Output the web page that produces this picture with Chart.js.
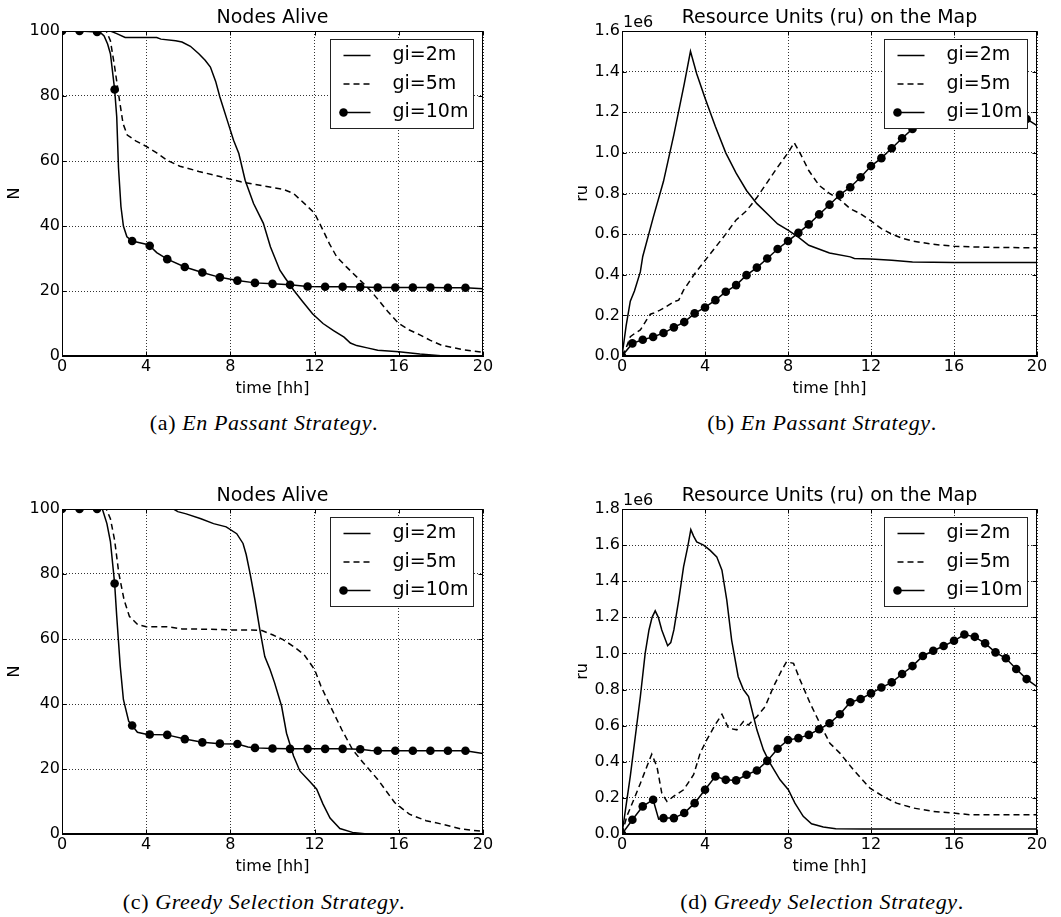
<!DOCTYPE html>
<html>
<head>
<meta charset="utf-8">
<script src="https://cdn.jsdelivr.net/npm/chart.js@4/dist/chart.umd.min.js"></script>
<style>
  html, body { margin: 0; padding: 0; background: #fff; }
  body { width: 1061px; height: 917px; position: relative; overflow: hidden; }
  canvas { position: absolute; }
  .cap { position: absolute; width: 400px; text-align: center; font-family: "Liberation Serif", serif;
         font-size: 22px; line-height: 26px; letter-spacing: 0.6px; color: #000; white-space: nowrap; }
</style>
</head>
<body>
<canvas id="cA" width="500" height="400" style="left:0;top:0"></canvas>
<canvas id="cB" width="531" height="400" style="left:530px;top:0"></canvas>
<canvas id="cC" width="500" height="400" style="left:0;top:478px"></canvas>
<canvas id="cD" width="531" height="400" style="left:530px;top:478px"></canvas>
<script>
// ---- labels ----
const seriesLabels = ['gi=2m', 'gi=5m', 'gi=10m'];
const panelTitles = ['Nodes Alive', 'Resource Units (ru) on the Map'];
const captionTags = ['(a)', '(b)', '(c)', '(d)'];
const captionNames = ['En Passant Strategy', 'En Passant Strategy', 'Greedy Selection Strategy', 'Greedy Selection Strategy'];

// ---- tick values ----
const hourTicks = [0, 4, 8, 12, 16, 20];
const nodeTicks = [0, 20, 40, 60, 80, 100];
const ruTicksEnPassant = [0, 0.2, 0.4, 0.6, 0.8, 1.0, 1.2, 1.4, 1.6];
const ruTicksGreedy = [0, 0.2, 0.4, 0.6, 0.8, 1.0, 1.2, 1.4, 1.6, 1.8];

// ---- En Passant: nodes alive (time in minutes) ----
const enpNodes2T = [0,138,156,180,270,282,324,342,366,390,408,423,438,450,474,489,504,522,546,574,594,621,636,660,684,714,744,774,804,822,840,870,900,960,1020,1080,1200];
const enpNodes2V = [100,100,99.2,98,98,97.5,97,96.6,95.3,93,91,88.9,84.5,79.7,71.5,66.4,62.3,54.1,46.9,40.8,33.6,26.4,24,20.3,17,13,10,7.8,5.8,4,3.2,2.5,1.8,1.3,0.6,0.1,0];
const enpNodes5T = [0,126,138,150,162,174,186,210,240,270,300,336,390,450,510,570,630,660,696,720,744,762,783,810,849,876,900,930,960,990,1020,1050,1080,1140,1200];
const enpNodes5V = [100,100,97,89,80,71.5,68,66.2,64.5,62.5,60.2,58.4,56.8,55.2,53.6,52.4,51.3,50,46.4,43.9,38.7,34.6,30.5,27.5,23.4,20.5,17.5,13.5,10,8,6.5,4.8,3.4,2,1.1];
const enpNodes10T = [0,50,100,110,120,130,138,150,156,161,168,175,185,200,240,250,270,300,350,400,450,500,550,600,650,700,750,800,850,900,950,1000,1050,1100,1150,1200];
const enpNodes10V = [100,100,99.7,99.5,98.5,96,93,82,73.6,58,46,40,36.7,35.4,34.4,33.9,31.8,29.8,27.4,25.7,24.2,23.2,22.5,22.2,21.9,21.4,21.3,21.3,21.2,21.1,21.1,21.1,21.1,21.0,21.0,20.7];

// ---- En Passant: resource units, in millions ----
const enpRu2T = [0,12,24,36,53,60,90,120,150,180,198,216,240,270,300,330,360,390,420,450,480,510,540,600,660,672,720,780,840,960,1200];
const enpRu2V = [0,0.15,0.27,0.32,0.414,0.49,0.68,0.86,1.09,1.34,1.50,1.39,1.27,1.13,1.0,0.90,0.815,0.75,0.70,0.65,0.62,0.585,0.545,0.507,0.488,0.48,0.478,0.471,0.463,0.46,0.46];
const enpRu5T = [0,12,24,36,53,72,82,90,110,120,150,164,178,210,240,270,300,330,360,390,420,450,480,498,516,540,570,600,630,660,690,720,750,780,810,840,900,960,1080,1200];
const enpRu5V = [0,0.04,0.095,0.11,0.128,0.18,0.206,0.21,0.226,0.235,0.267,0.275,0.324,0.405,0.47,0.535,0.60,0.67,0.715,0.78,0.855,0.93,1.0,1.05,0.995,0.913,0.84,0.80,0.77,0.725,0.70,0.665,0.627,0.60,0.58,0.566,0.55,0.54,0.534,0.533];
const enpRu10T = [0,30,60,90,120,150,180,210,240,270,300,330,360,390,420,450,480,510,540,570,600,630,660,690,720,750,780,810,840,870,900,930,960,990,1020,1050,1080,1110,1140,1170,1200];
const enpRu10V = [0,0.062,0.08,0.094,0.113,0.141,0.167,0.21,0.239,0.275,0.316,0.349,0.398,0.435,0.48,0.527,0.566,0.606,0.648,0.697,0.745,0.794,0.831,0.88,0.935,0.974,1.023,1.072,1.118,1.15,1.18,1.21,1.23,1.245,1.25,1.24,1.225,1.205,1.185,1.167,1.134];

// ---- Greedy Selection: nodes alive ----
const grdNodes2T = [0,318,330,354,396,432,468,498,516,525,536,550,564,578,593,606,626,640,660,678,707,726,744,764,792,828,870,1200];
const grdNodes2V = [100,100,99.2,98.5,97,95.5,94.5,92.4,89.4,86,80.2,72,62.8,54.6,50.6,46.5,39.3,31,24,19.4,16.1,13.8,9.2,4.9,1.7,0.5,0,0];
const grdNodes5T = [0,126,138,150,162,177,192,216,240,300,342,420,480,540,570,600,630,660,690,720,738,762,798,828,858,900,948,990,1038,1080,1140,1200];
const grdNodes5V = [100,100,97,90.4,80.2,72,67,64.4,63.8,63.8,63.1,63,62.8,62.8,62.6,61.3,59.8,57.7,55.2,50.6,45.5,40,32,26,22,16.8,9.7,6.1,4.1,3.1,1.5,0.8];
const grdNodes10T = [0,50,100,115,128,138,150,156,166,175,190,200,215,240,250,300,350,400,450,500,530,550,600,650,700,750,800,850,880,900,950,1000,1050,1100,1150,1200];
const grdNodes10V = [100,100,100,100,95.5,90,77.1,67,51.6,41.4,34.7,33.4,31.3,30.7,30.6,30.5,29.2,28.2,27.8,27.7,26.8,26.5,26.3,26.2,26.2,26.2,26.2,26.1,25.7,25.6,25.6,25.6,25.6,25.6,25.6,24.8];

// ---- Greedy Selection: resource units, in millions ----
const grdRu2T = [0,24,53,67,78,87,96,105,115,132,141,150,164,178,190,199,207,216,236,255,274,289,303,317,336,351,366,390,409,428,457,481,500,524,548,582,618,696,1200];
const grdRu2V = [0,0.32,0.76,1.0,1.13,1.2,1.236,1.2,1.13,1.043,1.06,1.13,1.295,1.48,1.59,1.686,1.65,1.618,1.60,1.571,1.535,1.461,1.295,1.074,0.871,0.80,0.761,0.577,0.466,0.392,0.30,0.245,0.171,0.098,0.057,0.039,0.029,0.028,0.028];
const grdRu5T = [0,14,34,53,72,86,101,115,130,149,178,207,226,245,269,289,308,332,351,365,390,414,438,462,476,496,515,544,572,601,630,669,717,755,794,842,900,958,1006,1200];
const grdRu5V = [0,0.098,0.19,0.28,0.374,0.442,0.374,0.227,0.18,0.208,0.245,0.328,0.448,0.521,0.604,0.663,0.586,0.577,0.623,0.604,0.65,0.706,0.816,0.908,0.954,0.945,0.853,0.724,0.613,0.503,0.448,0.356,0.254,0.208,0.171,0.144,0.125,0.116,0.107,0.107];
const grdRu10T = [0,30,60,90,106,120,150,180,210,240,270,300,330,360,390,420,450,480,510,540,570,600,630,660,690,720,750,780,810,840,870,900,930,960,990,1020,1050,1080,1110,1140,1170,1200];
const grdRu10V = [0,0.079,0.153,0.19,0.082,0.088,0.088,0.116,0.171,0.245,0.319,0.30,0.297,0.328,0.352,0.405,0.472,0.521,0.531,0.549,0.58,0.613,0.663,0.73,0.748,0.779,0.811,0.84,0.886,0.93,0.986,1.015,1.041,1.07,1.105,1.092,1.056,1.006,0.973,0.914,0.858,0.816];

const FONT = '"DejaVu Sans", sans-serif';
const END_MIN = 1200;
const MARK_R = 4.3;

// frame, inward ticks, in-axes legend and the exponent label
const axesDecor = {
  id: 'axesDecor',
  afterDatasetsDraw(chart, _args, opts) {
    const { ctx, chartArea: a, scales } = chart;
    const L = Math.round(a.left) + 0.5, R = Math.round(a.right) - 0.5;
    const T = Math.round(a.top) + 0.5, B = Math.round(a.bottom) - 0.5;
    ctx.save();
    ctx.strokeStyle = '#000';
    ctx.lineWidth = 1;
    ctx.setLineDash([]);
    ctx.beginPath();
    for (const t of scales.x.ticks) {
      const px = Math.round(scales.x.getPixelForValue(t.value)) + 0.5;
      ctx.moveTo(px, B); ctx.lineTo(px, B - 4);
      ctx.moveTo(px, T); ctx.lineTo(px, T + 4);
    }
    for (const t of scales.y.ticks) {
      const py = Math.round(scales.y.getPixelForValue(t.value)) + 0.5;
      ctx.moveTo(L, py); ctx.lineTo(L + 4, py);
      ctx.moveTo(R, py); ctx.lineTo(R - 4, py);
    }
    ctx.stroke();
    ctx.strokeRect(L, T, R - L, B - T);

    // legend
    const w = 143, h = 89;
    const x0 = Math.round(a.right - 10 - w) + 0.5, y0 = Math.round(a.top + 8) + 0.5;
    ctx.fillStyle = '#fff';
    ctx.fillRect(x0, y0, w, h);
    ctx.strokeStyle = '#222';
    ctx.strokeRect(x0, y0, w, h);
    ctx.font = '19px ' + FONT;
    ctx.textBaseline = 'middle';
    ctx.textAlign = 'left';
    chart.data.datasets.forEach((ds, i) => {
      const y = y0 + 16 + i * 28.5;
      ctx.strokeStyle = '#000';
      ctx.lineWidth = ds.borderWidth;
      ctx.setLineDash(ds.borderDash || []);
      ctx.beginPath();
      ctx.moveTo(x0 + 13, y); ctx.lineTo(x0 + 40, y);
      ctx.stroke();
      ctx.setLineDash([]);
      ctx.fillStyle = '#000';
      if (ds.markEvery) {
        ctx.beginPath();
        ctx.arc(x0 + 13, y, MARK_R, 0, Math.PI * 2);
        ctx.fill();
      }
      ctx.fillText(ds.label, x0 + 62, y);
    });

    if (opts.exponent) {
      ctx.font = '16px ' + FONT;
      ctx.textBaseline = 'alphabetic';
      ctx.fillStyle = '#000';
      ctx.fillText(opts.exponent, a.left + 1, a.top - 4);
    }
    ctx.restore();
  }
};

function series(label, t, v, extra) {
  return Object.assign({
    label,
    data: t.map((m, i) => ({ x: m / 60, y: v[i], m })),
    borderColor: '#000',
    backgroundColor: '#000',
    borderWidth: 1.5,
    pointRadius: 0,
    pointHoverRadius: 0,
    tension: 0
  }, extra || {});
}

function markedSeries(label, t, v, every) {
  return series(label, t, v, {
    markEvery: every,
    pointBackgroundColor: '#000',
    pointBorderWidth: 0,
    pointRadius: (c) => {
      const p = c.raw;
      return p && p.m % every === 0 && p.m < END_MIN ? MARK_R : 0;
    }
  });
}

function fixedTicks(values) {
  return (scale) => { scale.ticks = values.map(v => ({ value: v })); };
}

function makePanel(id, cfg) {
  const tickFont = { family: FONT, size: 16 };
  new Chart(document.getElementById(id), {
    type: 'line',
    data: { datasets: cfg.datasets },
    plugins: [axesDecor],
    options: {
      responsive: false,
      animation: false,
      events: [],
      layout: { padding: { left: 0, right: cfg.padRight, top: 0, bottom: 0 }, autoPadding: false },
      plugins: {
        legend: { display: false },
        tooltip: { enabled: false },
        title: {
          display: true, text: cfg.title, fullSize: false, color: '#000',
          font: { family: FONT, size: 19, weight: 'normal', lineHeight: 1.2 },
          padding: { top: 7, bottom: 1.2 }
        },
        axesDecor: { exponent: cfg.exponent || null }
      },
      scales: {
        x: {
          type: 'linear', min: 0, max: 20,
          afterBuildTicks: fixedTicks(hourTicks),
          afterFit: (s) => { s.height = 44; s.paddingLeft = 0; s.paddingRight = 0; },
          ticks: { color: '#000', font: tickFont, padding: 1, maxRotation: 0, autoSkip: false },
          grid: { color: 'rgba(0,0,0,0.8)', lineWidth: 1, drawTicks: false },
          border: { display: true, color: '#000', width: 1, dash: [1, 2] },
          title: { display: true, text: 'time [hh]', color: '#000', font: tickFont, padding: { top: 0, bottom: 1.9 } }
        },
        y: {
          type: 'linear', min: 0, max: cfg.yMax,
          afterBuildTicks: fixedTicks(cfg.yTicks),
          afterFit: (s) => { s.width = cfg.yWidth; s.paddingTop = 0; s.paddingBottom = 0; },
          ticks: {
            color: '#000', font: tickFont, padding: 2, autoSkip: false,
            callback: cfg.yFormat
          },
          grid: { color: 'rgba(0,0,0,0.8)', lineWidth: 1, drawTicks: false },
          border: { display: true, color: '#000', width: 1, dash: [1, 2] },
          title: { display: true, text: cfg.yTitle, color: '#000', font: tickFont, padding: { top: cfg.yTitlePad, bottom: 0 } }
        }
      }
    }
  });
}

const dash = [6, 4];
const intFmt = (v) => String(v);
const oneDec = (v) => v.toFixed(1);

makePanel('cA', {
  title: panelTitles[0], yMax: 100, yTicks: nodeTicks, yFormat: intFmt, yTitle: 'N',
  yWidth: 62, yTitlePad: 5.4, padRight: 17,
  datasets: [
    series(seriesLabels[0], enpNodes2T, enpNodes2V),
    series(seriesLabels[1], enpNodes5T, enpNodes5V, { borderDash: dash }),
    markedSeries(seriesLabels[2], enpNodes10T, enpNodes10V, 50)
  ]
});

makePanel('cB', {
  title: panelTitles[1], yMax: 1.6, yTicks: ruTicksEnPassant, yFormat: oneDec, yTitle: 'ru',
  yWidth: 92, yTitlePad: 42.9, padRight: 24, exponent: '1e6',
  datasets: [
    series(seriesLabels[0], enpRu2T, enpRu2V),
    series(seriesLabels[1], enpRu5T, enpRu5V, { borderDash: dash }),
    markedSeries(seriesLabels[2], enpRu10T, enpRu10V, 30)
  ]
});

makePanel('cC', {
  title: panelTitles[0], yMax: 100, yTicks: nodeTicks, yFormat: intFmt, yTitle: 'N',
  yWidth: 62, yTitlePad: 5.4, padRight: 17,
  datasets: [
    series(seriesLabels[0], grdNodes2T, grdNodes2V),
    series(seriesLabels[1], grdNodes5T, grdNodes5V, { borderDash: dash }),
    markedSeries(seriesLabels[2], grdNodes10T, grdNodes10V, 50)
  ]
});

makePanel('cD', {
  title: panelTitles[1], yMax: 1.8, yTicks: ruTicksGreedy, yFormat: oneDec, yTitle: 'ru',
  yWidth: 92, yTitlePad: 42.9, padRight: 24, exponent: '1e6',
  datasets: [
    series(seriesLabels[0], grdRu2T, grdRu2V),
    series(seriesLabels[1], grdRu5T, grdRu5V, { borderDash: dash }),
    markedSeries(seriesLabels[2], grdRu10T, grdRu10V, 30)
  ]
});

// sub-figure captions
const capCenters = [[264, 423], [822, 423], [264, 902], [822, 902]];
captionTags.forEach((tag, i) => {
  const d = document.createElement('div');
  d.className = 'cap';
  d.style.left = (capCenters[i][0] - 200) + 'px';
  d.style.top = (capCenters[i][1] - 13) + 'px';
  const it = document.createElement('i');
  it.textContent = captionNames[i];
  d.append(tag + ' ', it, '.');
  document.body.appendChild(d);
});
</script>
</body>
</html>
